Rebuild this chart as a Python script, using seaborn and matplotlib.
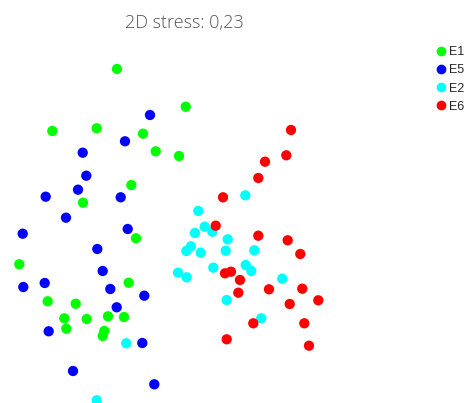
import matplotlib
matplotlib.use("Agg")
import matplotlib.pyplot as plt
import seaborn as sns
import pandas as pd

# NMDS ordination scores per group
e1_x = [-0.530, 0.157, -1.177, -0.733, -0.270, -0.143, 0.090, -0.387, -0.870, -0.340,
        -1.507, -0.413, -1.223, -0.943, -1.057, -0.833, -0.620, -0.460, -1.037, -0.657, -0.673]
e1_y = [1.310, 0.933, 0.690, 0.717, 0.663, 0.487, 0.440, 0.150, -0.027, -0.383,
        -0.643, -0.827, -1.013, -1.037, -1.183, -1.190, -1.163, -1.170, -1.287, -1.310, -1.360]

e5_x = [-0.200, -0.450, -0.873, -0.837, -0.920, -1.243, -0.493, -1.040, -0.423, -1.473,
        -0.727, -0.673, -1.253, -1.467, -0.597, -0.257, -0.533, -1.213, -0.277, -0.970, -0.157]
e5_y = [0.850, 0.587, 0.473, 0.243, 0.103, 0.033, 0.027, -0.177, -0.290, -0.337,
        -0.490, -0.710, -0.830, -0.870, -0.890, -0.957, -1.073, -1.313, -1.430, -1.710, -1.843]

e2_x = [0.753, 0.283, 0.347, 0.423, 0.250, 0.577, 0.210, 0.163, 0.307, 0.557,
        0.843, 0.433, 0.757, 0.813, 0.080, 0.167, 1.123, 0.567, 0.913, -0.437, -0.733]
e2_y = [0.047, -0.110, -0.267, -0.317, -0.330, -0.393, -0.463, -0.510, -0.527, -0.507,
        -0.503, -0.677, -0.650, -0.710, -0.727, -0.773, -0.787, -1.000, -1.183, -1.433, -2.003]

e6_x = [1.210, 1.163, 0.950, 0.883, 0.530, 0.457, 0.883, 1.177, 1.303, 0.550,
        0.610, 0.700, 0.683, 0.990, 1.323, 1.483, 1.197, 1.343, 0.833, 0.567, 1.390]
e6_y = [0.700, 0.447, 0.383, 0.220, 0.027, -0.257, -0.357, -0.403, -0.540, -0.733,
        -0.717, -0.800, -0.927, -0.893, -0.887, -1.003, -1.040, -1.233, -1.233, -1.393, -1.457]

groups = ["E1", "E5", "E2", "E6"]
colors = ["#00FF00", "#0000FF", "#00FFFF", "#FF0000"]
stress_label = "2D stress: 0,23"

frames = []
for name, xs, ys in zip(groups, [e1_x, e5_x, e2_x, e6_x], [e1_y, e5_y, e2_y, e6_y]):
    frames.append(pd.DataFrame({"NMDS1": xs, "NMDS2": ys, "group": name}))
df = pd.concat(frames, ignore_index=True)

sns.set_style("white")
fig = plt.figure(figsize=(4.72, 4.03), dpi=100)
ax = fig.add_axes([0, 0, 1, 1])

sns.scatterplot(data=df, x="NMDS1", y="NMDS2", hue="group", hue_order=groups,
                palette=dict(zip(groups, colors)), s=55, linewidth=0, ax=ax, legend=False)

ax.set_xlim(-1.70, 3.02)
ax.set_ylim(-2.03, 2.00)
ax.axis("off")

fig.text(184 / 472, 1 - 23 / 403, stress_label, ha="center", va="center",
         fontsize=13, color="#555555", family=["Open Sans", "DejaVu Sans"], fontweight="light")

handles = [plt.Line2D([], [], marker="o", linestyle="", color=c, markersize=7, markeredgewidth=0)
           for c in colors]
fig.legend(handles, groups, loc="upper left", bbox_to_anchor=(433 / 472, 1 - 46 / 403),
           frameon=False, handletextpad=0.1, handlelength=1.2, labelspacing=0.5,
           prop={"family": "Liberation Sans", "size": 9}, borderaxespad=0, borderpad=0)

fig.savefig("out.png", dpi=100)
